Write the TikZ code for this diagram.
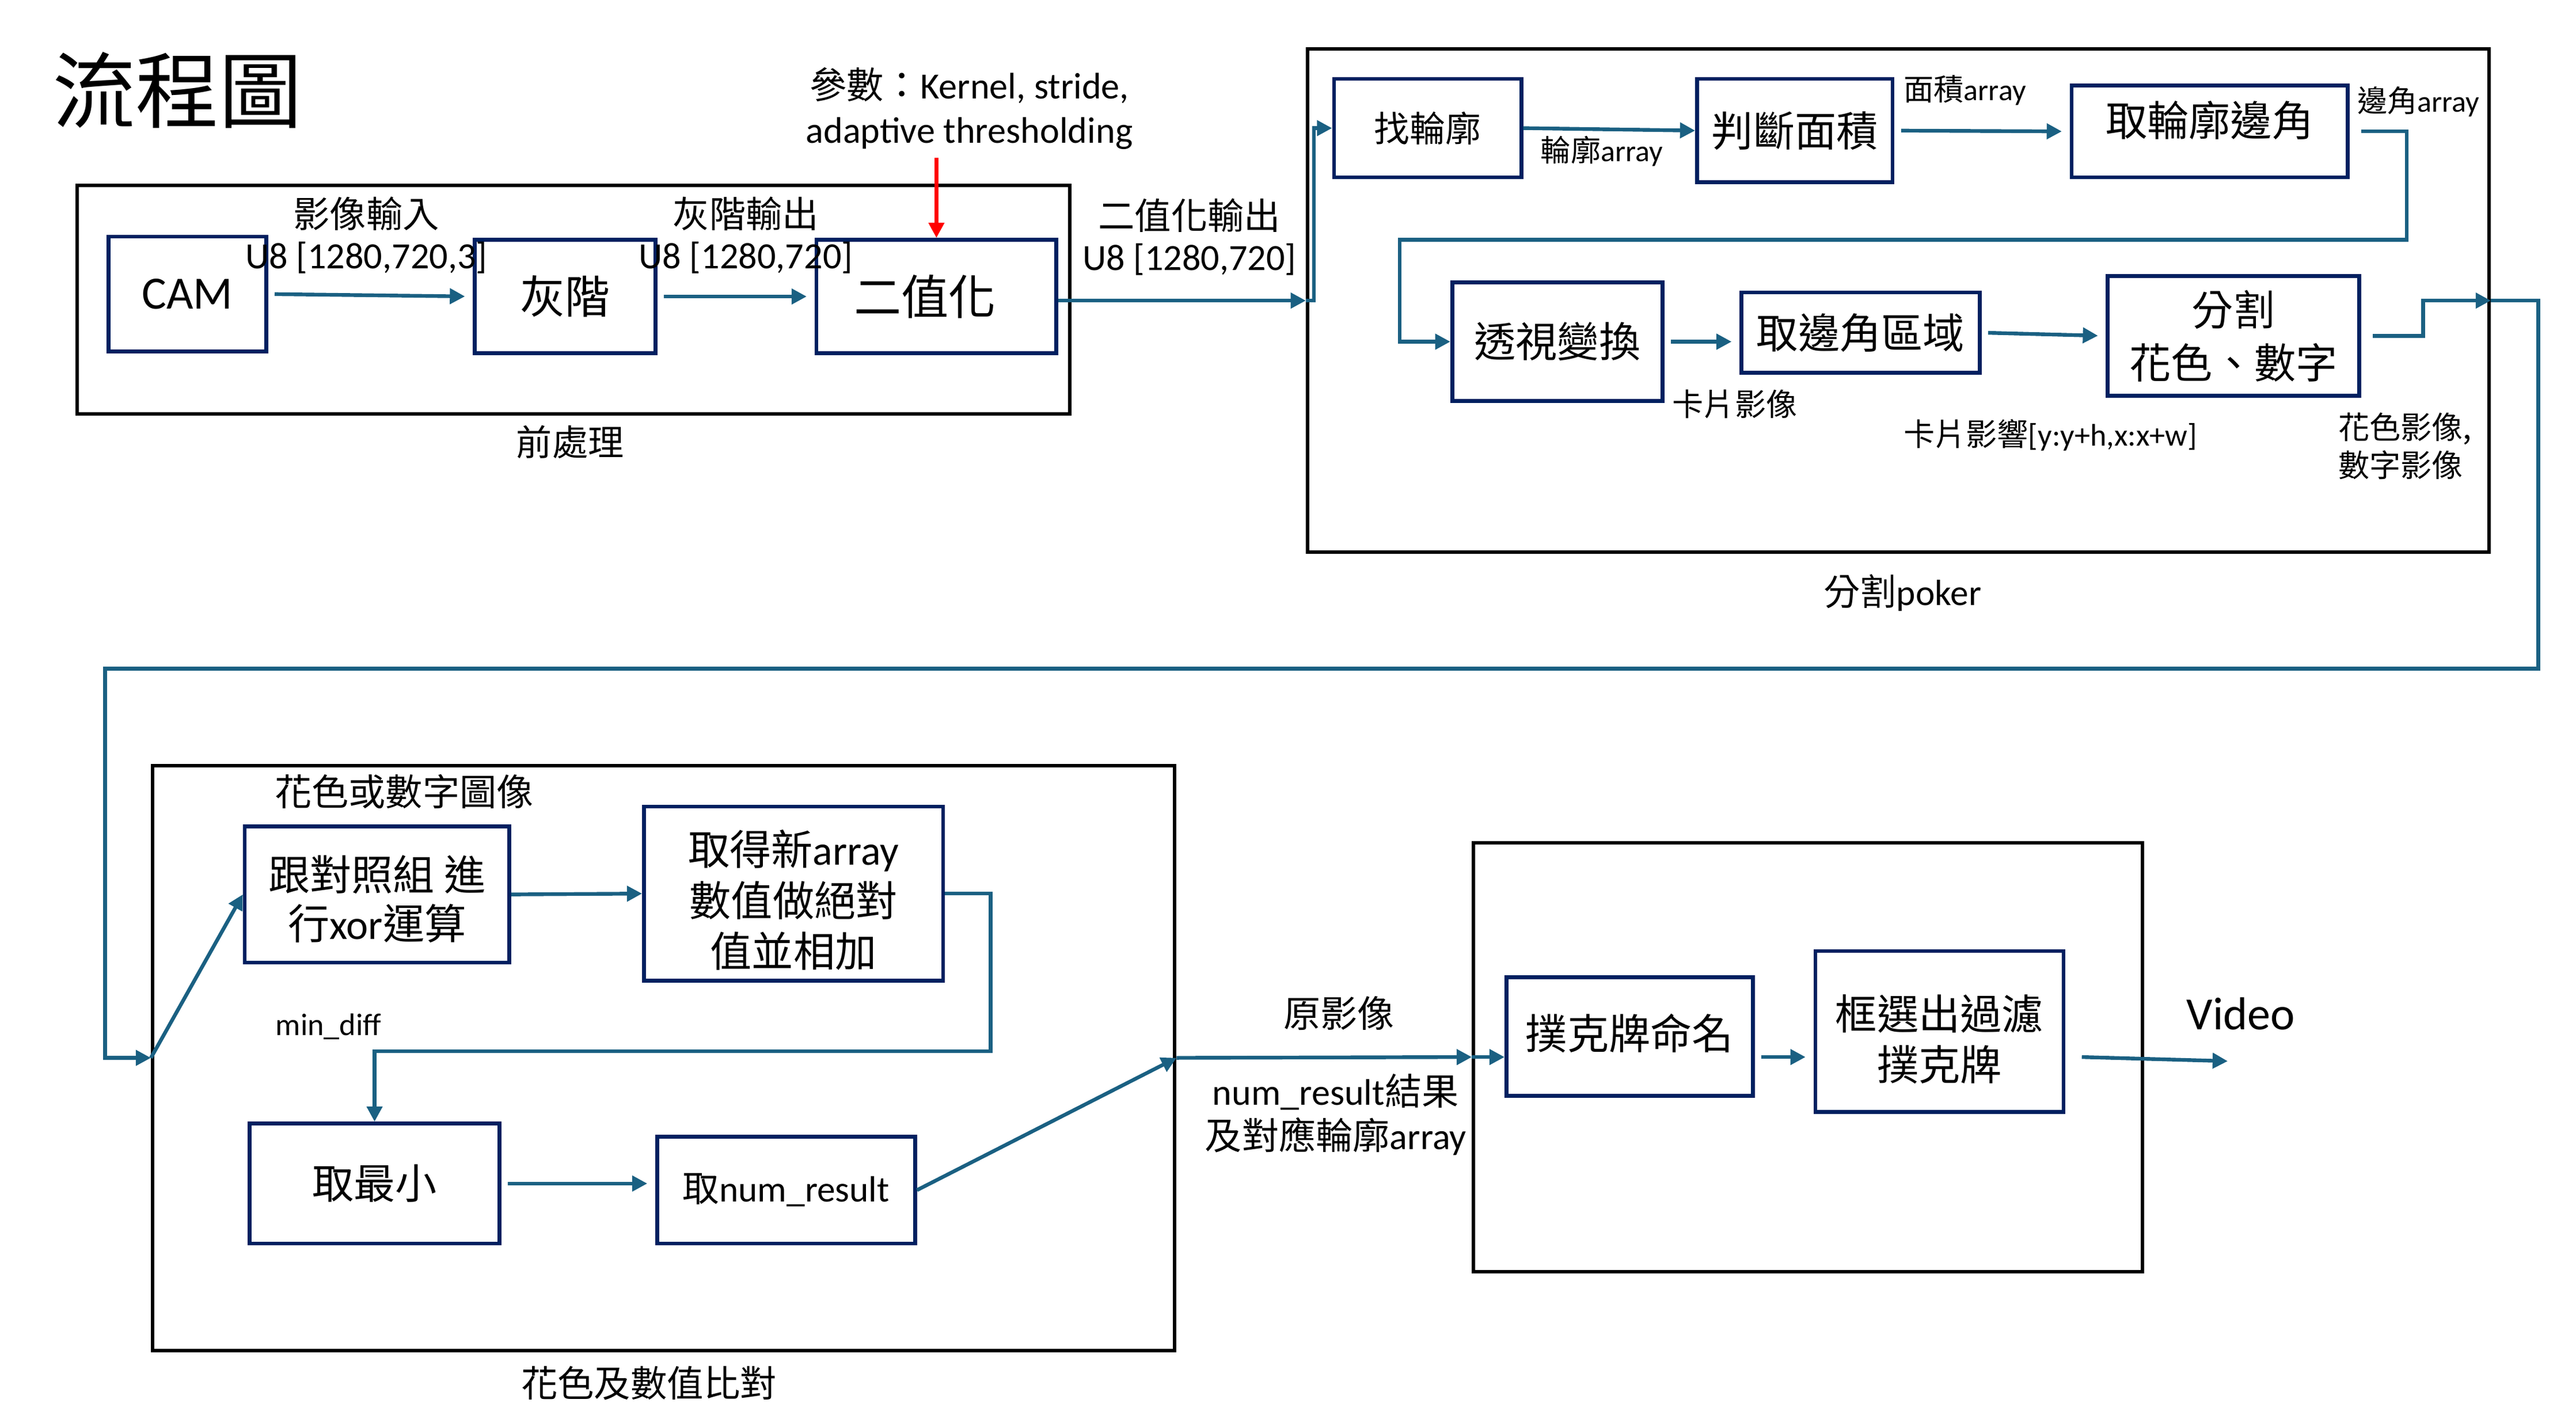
\documentclass[tikz,border=0pt]{standalone}
\usepackage{fontspec}
\setmainfont{Carlito}
\newfontfamily\cjk{Noto Sans CJK TC}
\usetikzlibrary{arrows.meta}
\definecolor{navy}{RGB}{0,32,96}
\definecolor{flowblue}{RGB}{26,96,130}
\newcommand{\fs}[2]{\fontsize{#1}{#2}\selectfont}
\newcommand{\dropby}[2]{\raisebox{-#1}[\height][\depth]{#2}}
\tikzstyle{navybox}=[draw=navy,line width=1.65pt,inner sep=0pt,align=center]
\tikzstyle{frame}=[draw=black,line width=1.5pt,inner sep=0pt]
\tikzstyle{txt}=[inner sep=0pt,align=center]
\tikzstyle{flow}=[draw=flowblue,line width=1.6pt,
                  -{Triangle[length=0.23cm,width=0.23cm]}]
\tikzstyle{redflow}=[draw=red,line width=1.6pt,
                     -{Triangle[length=0.23cm,width=0.23cm]}]
\tikzstyle{gap}=[shorten <=0.1cm,shorten >=0.12cm]

\begin{document}
\begin{tikzpicture}[x=0.025cm,y=-0.025cm]
    \useasboundingbox (0,0) rectangle (1568,868);
    \node (title) at (108,55) [txt,font=\cjk\fs{36}{40}]{流程圖};

    % preprocessing
    \node (pre) at (349,182.5) [frame,minimum width=15.1cm,minimum height=3.475cm]{};
    \node (preLbl) at (347,269) [txt,font=\cjk\fs{15.5}{18}]{前處理};
    \node (cam) at (114,179) [navybox,minimum width=2.4cm,minimum height=1.75cm,font=\fs{20}{24}]{CAM};
    \node (gray) at (344,180.5) [navybox,minimum width=2.75cm,minimum height=1.725cm,font=\cjk\fs{19.5}{22}]{灰階};
    \node (bin) at (570,180.5) [navybox,minimum width=3.65cm,minimum height=1.725cm,font=\cjk\fs{20.5}{24}]{\hspace*{-0.35cm}二值化};
    \node (inLbl) at (223,130) [txt,font=\cjk\fs{15.8}{18}]{影像輸入};
    \node (inDim) at (223,157) [txt,font=\fs{16}{18}]{U8 [1280,720,3]};
    \node (grayLbl) at (454,130) [txt,font=\cjk\fs{15.8}{18}]{灰階輸出};
    \node (grayDim) at (454,157) [txt,font=\fs{16}{18}]{U8 [1280,720]};
    \node (binLbl) at (724,131) [txt,font=\cjk\fs{15.8}{18}]{二值化輸出};
    \node (binDim) at (724,158) [txt,font=\fs{16}{18}]{U8 [1280,720]};
    \node (param) at (590,66) [txt,font=\fs{16}{19.2}]{{\cjk 參數：}Kernel, stride,\\adaptive thresholding};
    \coordinate (redTop) at (570,96);
    \draw[flow,gap] (cam.east) -- (gray.west);
    \draw[flow,gap] (gray.east) -- (bin.west);
    \draw[redflow] (redTop) -- (bin.north);

    % split poker
    \node (pok) at (1155.5,183) [frame,minimum width=17.975cm,minimum height=7.65cm]{};
    \node (pokLbl) at (1158,361) [txt,font=\fs{15.8}{18}]{{\cjk 分割}poker};
    \node (contour) at (869,78) [navybox,minimum width=2.85cm,minimum height=1.5cm,font=\cjk\fs{15.4}{18}]{找輪廓};
    \node (area) at (1092.5,79.5) [navybox,minimum width=2.975cm,minimum height=1.575cm,font=\cjk\fs{18}{22}]{判斷面積};
    \node (corner) at (1345,80) [navybox,minimum width=4.2cm,minimum height=1.4cm,font=\cjk\fs{18}{22}]{\raisebox{0.4cm}{取輪廓邊角}};
    \node (persp) at (948,208) [navybox,minimum width=3.2cm,minimum height=1.8cm,font=\cjk\fs{18}{22}]{透視變換};
    \node (region) at (1132.5,202.5) [navybox,minimum width=3.625cm,minimum height=1.225cm,font=\cjk\fs{18}{22}]{取邊角區域};
    \node (split) at (1359.5,204.5) [navybox,minimum width=3.825cm,minimum height=1.825cm,font=\cjk\fs{18}{22.8}]{分割\\花色、數字};
    \node (contLbl) at (975,92) [txt,font=\fs{13}{16}]{{\cjk 輪廓}array};
    \node (areaLbl) at (1196,55) [txt,font=\fs{13}{16}]{{\cjk 面積}array};
    \node (cornLbl) at (1472,62) [txt,font=\fs{13}{16}]{{\cjk 邊角}array};
    \node (cardLbl) at (1056,246) [txt,font=\cjk\fs{13.5}{16}]{卡片影像};
    \node (cropLbl) at (1248,265) [txt,font=\fs{13.5}{16}]{{\cjk 卡片影響}[y:y+h,x:x+w]};
    \node (partLbl) at (1423,271.5) [txt,anchor=west,align=left,font=\cjk\fs{13.5}{16.4}]{花色影像,\\數字影像};
    \coordinate (c1) at (1465,146);
    \coordinate (c2) at (852,146);
    \coordinate (s1) at (1475,183);
    \draw[flow] (bin.east |- pok.west) -- (pok.west);
    \draw[flow] (pok.west) -- ++(5,0) |- (contour.west);
    \draw[flow] (contour.east) -- (area.west);
    \draw[flow,gap] (area.east) -- (corner.west);
    \draw[flow] ([xshift=0.18cm]corner.east) -| (c1) -- (c2) |- (persp.west);
    \draw[flow,gap] (persp.east) -- (persp.east -| region.west);
    \draw[flow,gap] (region.east) -- (split.west);
    \draw[flow] ([xshift=0.18cm]split.east) -| (s1) -- (pok.east);

    % compare
    \node (cmp) at (404,644) [frame,minimum width=15.55cm,minimum height=8.9cm]{};
    \node (cmpLbl) at (395,842) [txt,font=\cjk\fs{15.8}{18}]{花色及數值比對};
    \node (imgLbl) at (246,482) [txt,font=\cjk\fs{16}{18}]{花色或數字圖像};
    \node (xor) at (229.5,544.5) [navybox,minimum width=4.025cm,minimum height=2.075cm,font=\fs{18}{21.3}]{\dropby{0.07cm}{{\cjk 跟對照組 進}}\\\dropby{0.07cm}{{\cjk 行}xor{\cjk 運算}}};
    \node (abs) at (483,544) [navybox,minimum width=4.55cm,minimum height=2.65cm,font=\fs{18}{22}]{\dropby{0.1cm}{{\cjk 取得新}array}\\\dropby{0.1cm}{{\cjk 數值做絕對}}\\\dropby{0.1cm}{{\cjk 值並相加}}};
    \node (minLbl) at (200,625) [txt,font=\fs{13.5}{16}]{min\_diff};
    \node (minbox) at (228,720.5) [navybox,minimum width=3.8cm,minimum height=1.825cm,font=\cjk\fs{18}{22}]{取最小};
    \node (result) at (478.5,724.5) [navybox,minimum width=3.925cm,minimum height=1.625cm,font=\fs{15.8}{18}]{{\cjk 取}num\_result};
    \coordinate (r1) at (1545,407);
    \coordinate (r2) at (64,407);
    \coordinate (a1) at (603,640);
    \draw[flow] (pok.east) -| (r1) -- (r2) |- (cmp.west);
    \draw[flow] (cmp.west) -- (xor.west);
    \draw[flow] (xor.east) -- (abs.west);
    \draw[flow] (abs.east) -| (a1) -| (minbox.north);
    \draw[flow,gap] (minbox.east) -- (minbox.east -| result.west);
    \draw[flow] (result.east) -- (cmp.east);

    % output
    \node (out) at (1100.5,643.5) [frame,minimum width=10.175cm,minimum height=6.525cm]{};
    \node (srcLbl) at (815,617) [txt,font=\cjk\fs{16}{18}]{原影像};
    \node (resLbl) at (813,678.5) [txt,font=\fs{16}{19.2}]{num\_result{\cjk 結果}\\{\cjk 及對應輪廓}array};
    \node (name) at (992,631) [navybox,minimum width=3.75cm,minimum height=1.8cm,font=\cjk\fs{18}{22}]{\raisebox{0.15cm}{撲克牌命名}};
    \node (filter) at (1180.5,628) [navybox,minimum width=3.775cm,minimum height=2.45cm,font=\cjk\fs{18}{22}]{\dropby{0.12cm}{框選出過濾}\\\dropby{0.12cm}{撲克牌}};
    \node (video) at (1364,617) [txt,font=\fs{20}{24}]{Video};
    \coordinate (vidEnd) at (1356,646);
    \draw[flow] (cmp.east) -- (out.west);
    \draw[flow] (out.west) -- (out.west -| name.west);
    \draw[flow,gap] (name.east |- out.west) -- (filter.west |- out.west);
    \draw[flow] ([xshift=0.25cm]filter.east |- out.west) -- (vidEnd);
\end{tikzpicture}
\end{document}
